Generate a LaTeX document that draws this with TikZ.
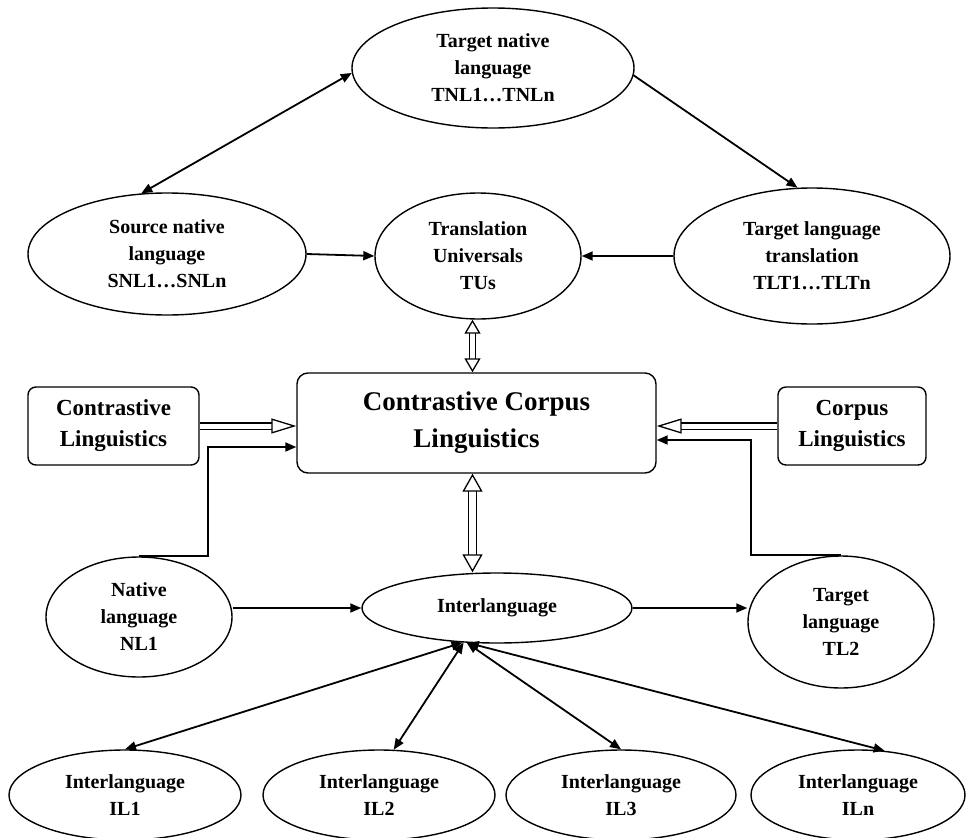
\documentclass[tikz,border=0pt]{standalone}
\usepackage{fontspec}
\setmainfont{Liberation Serif}
\usetikzlibrary{arrows.meta,shapes.geometric,calc}
\begin{document}
\begin{tikzpicture}[x=1pt,y=-1pt,
  ell/.style={draw, ellipse, line width=1.4pt, inner sep=0pt, align=center,
    font=\fontsize{20}{27}\selectfont\bfseries},
  boxn/.style={draw, rounded corners=8pt, line width=1.4pt, inner sep=0pt, align=center,
    font=\fontsize{23}{31}\selectfont\bfseries},
  conn/.style={line width=1.8pt, -{Triangle[length=11pt,width=9pt]}},
  bconn/.style={line width=1.8pt, {Triangle[length=11pt,width=9pt]}-{Triangle[length=11pt,width=9pt]}},
  hollow/.style={double=white, double distance=5pt, line width=1.3pt,
    -{Triangle[open, length=25pt, width=15pt, line width=1.3pt, fill=white]}},
  vhollowA/.style={double=white, double distance=5pt, line width=1.3pt,
    {Triangle[open, length=14pt, width=16pt, line width=1.3pt, fill=white]}-{Triangle[open, length=14pt, width=16pt, line width=1.3pt, fill=white]}},
  vhollowB/.style={double=white, double distance=7pt, line width=1.3pt,
    {Triangle[open, length=18pt, width=20pt, line width=1.3pt, fill=white]}-{Triangle[open, length=18pt, width=20pt, line width=1.3pt, fill=white]}}
]
\useasboundingbox (0,0) rectangle (967,838);
% top
\node[ell, minimum width=282pt, minimum height=120pt] (tnl) at (493,68) {Target native\\language\\TNL1…TNLn};
\node[ell, minimum width=278pt, minimum height=122pt] (snl) at (167,254) {Source native\\language\\SNL1…SNLn};
\node[ell, minimum width=206pt, minimum height=126pt] (tu) at (478,256) {Translation\\Universals\\TUs};
\node[ell, minimum width=276pt, minimum height=136pt] (tlt) at (812,256) {Target language\\translation\\TLT1…TLTn};
% middle
\node[boxn, minimum width=171pt, minimum height=78pt] (cl) at (113.5,426) {Contrastive\\Linguistics};
\node[boxn, rounded corners=11pt, minimum width=359pt, minimum height=100pt,
  font=\fontsize{27}{37}\selectfont\bfseries] (ccl) at (476.5,423) {Contrastive Corpus\\Linguistics};
\node[boxn, minimum width=148pt, minimum height=78pt] (corp) at (852,426) {Corpus\\Linguistics};
% lower
\node[ell, minimum width=186pt, minimum height=120pt] (nl) at (139,617) {Native\\language\\NL1};
\node[ell, minimum width=270pt, minimum height=70pt] (il) at (497,608) {Interlanguage};
\node[ell, minimum width=186pt, minimum height=132pt] (tl) at (841,622) {Target\\language\\TL2};
% bottom
\node[ell, minimum width=232pt, minimum height=90pt] (il1) at (125,795) {Interlanguage\\IL1};
\node[ell, minimum width=232pt, minimum height=90pt] (il2) at (379,795) {Interlanguage\\IL2};
\node[ell, minimum width=230pt, minimum height=90pt] (il3) at (621,795) {Interlanguage\\IL3};
\node[ell, minimum width=214pt, minimum height=90pt] (iln) at (858,795) {Interlanguage\\ILn};
% connectors top
\draw[bconn] (tnl.182) -- (snl.113);
\draw[conn] (tnl.-3) -- (tlt.102);
\draw[conn] (snl.east) -- (tu.west);
\draw[conn] (tlt.west) -- (tu.east);
% hollow arrows
\draw[vhollowA] ([xshift=-4pt]ccl.north |- tu.south) -- ([xshift=-4pt]ccl.north);
\draw[vhollowB] ([xshift=-4pt]ccl.south) -- ([xshift=-4pt]ccl.south |- il.north);
\draw[hollow] (cl.east) -- (cl.east -| ccl.west);
\draw[hollow] (corp.west) -- (corp.west -| ccl.east);
% elbow connectors
\draw[conn] (nl.north) -- ++(69,0) |- ($(ccl.west)+(0,24)$);
\draw[conn] (tl.north) -- ++(-90,0) |- ($(ccl.east)+(0,17)$);
% lower
\draw[conn] (nl.east |- il.west) -- (il.west);
\draw[conn] (il.east) -- (il.east -| tl.west);
\draw[bconn] (il.225) -- (il1.north);
\draw[bconn] (il.226) -- (il2.72);
\draw[bconn] (il.229) -- (il3.north);
\draw[bconn] (il.230) -- (iln.59);
\end{tikzpicture}
\end{document}
